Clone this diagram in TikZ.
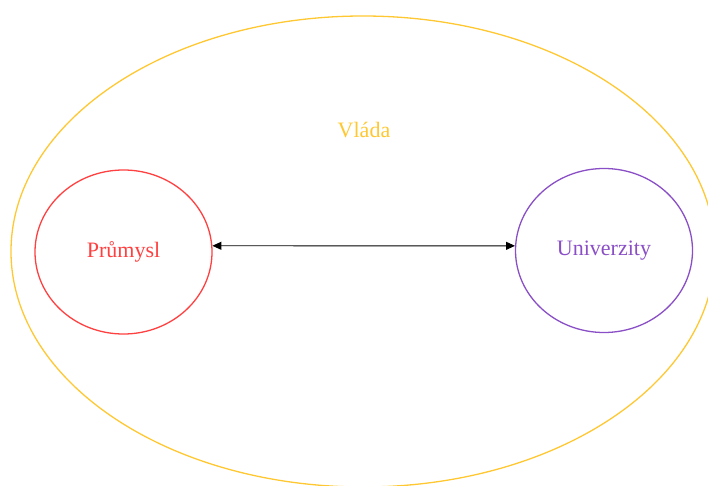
\documentclass[tikz,border=0pt]{standalone}
\usepackage{fontspec}
\setmainfont{Liberation Serif}
\usetikzlibrary{shapes.geometric,arrows.meta}

\definecolor{govcol}{HTML}{FFC832}
\definecolor{indcol}{HTML}{FF4040}
\definecolor{unicol}{HTML}{8A4FC6}

\tikzset{
  party/.style={ellipse, draw, line width=1.3pt, inner sep=0pt,
    minimum width=177pt, minimum height=164pt,
    font=\fontsize{22}{26}\selectfont},
}

\begin{document}
\begin{tikzpicture}[x=1pt, y=-1pt]

\useasboundingbox (0,0) rectangle (708,486);

% government
\node [ellipse, draw=govcol, line width=1.3pt, inner sep=0pt,
       minimum width=704pt, minimum height=471pt]  (gov)  at  (363, 251.5) {};
\node [text=govcol, font=\fontsize{22}{26}\selectfont]  (vlada)  at  (364, 130) {Vláda};

% industry and universities
\node [party, draw=indcol, text=indcol]  (ind)  at  (123.5, 252) {Průmysl};
\node [party, draw=unicol, text=unicol]  (uni)  at  (604, 250.5) {Univerzity};

\draw   [line width=0.9pt, {Triangle[length=9pt,width=8pt]}-{Triangle[length=9pt,width=8pt]}]   (ind.4) -- (uni.177);

\end{tikzpicture}
\end{document}
